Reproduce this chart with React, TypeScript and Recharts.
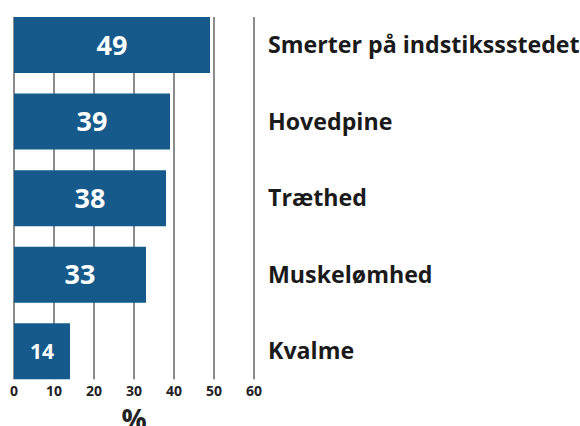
import { BarChart, Bar, XAxis, YAxis, CartesianGrid, LabelList } from "recharts"

const categories = [
  "Smerter på indstikssstedet",
  "Hovedpine",
  "Træthed",
  "Muskelømhed",
  "Kvalme",
]
const values = [49, 39, 38, 33, 14]
const xTicks = [0, 10, 20, 30, 40, 50, 60]

const data = categories.map((name, i) => ({ name, value: values[i] }))

const FONT = "'Open Sans', sans-serif"

function CategoryTick(props: any) {
  const { x, y, payload } = props
  return (
    <text x={x} y={y} dy="0.35em" textAnchor="start" fontFamily={FONT} fontWeight={700} fontSize={23.2} fill="#1a1a1a">
      {payload.value}
    </text>
  )
}

function ValueLabel(props: any) {
  const { x, y, width, height, value } = props
  const size = value < 20 ? 21 : 27
  return (
    <text x={x + width / 2} y={y + height / 2} dy="0.36em" textAnchor="middle" fontFamily={FONT} fontWeight={700} fontSize={size} fill="#ffffff">
      {value}
    </text>
  )
}

export default function App() {
  return (
    <div style={{ position: "absolute", left: 0, top: 0, background: "#fff" }}>
      <BarChart
        width={580}
        height={426}
        data={data}
        layout="vertical"
        margin={{ top: 17, right: 0, bottom: 0, left: 14 }}
        barCategoryGap={10.3}
      >
        <CartesianGrid horizontal={false} stroke="#666" strokeWidth={1.5} />
        <XAxis
          type="number"
          domain={[0, 60]}
          ticks={xTicks}
          axisLine={false}
          tickLine={false}
          tickSize={0}
          tickMargin={7}
          height={46.7}
          tick={{ fontFamily: FONT, fontWeight: 700, fontSize: 14, fill: "#222" }}
          label={{ value: "%", position: "insideBottom", offset: -4, fontFamily: FONT, fontWeight: 700, fontSize: 28, fill: "#222" }}
        />
        <YAxis
          type="category"
          dataKey="name"
          orientation="right"
          width={326}
          axisLine={false}
          tickLine={false}
          tickSize={0}
          tickMargin={14}
          padding={{ top: -10.3, bottom: -10.3 }}
          tick={<CategoryTick />}
        />
        <Bar dataKey="value" fill="#155a8b" isAnimationActive={false}>
          <LabelList dataKey="value" content={<ValueLabel />} />
        </Bar>
      </BarChart>
    </div>
  )
}
